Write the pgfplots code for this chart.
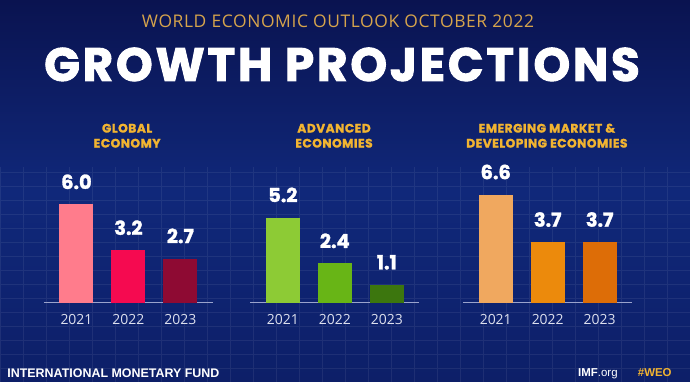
\documentclass[border=0pt]{standalone}
\usepackage{fontspec}
\setmainfont{Poppins}
\newfontfamily\heavy{Poppins}[BoldFeatures={FakeBold=1.5}]
\newfontfamily\titlefont{Poppins}[BoldFeatures={FakeBold=2, LetterSpace=6}]
\newfontfamily\headfont{Poppins}[BoldFeatures={FakeBold=1.5, LetterSpace=4}]
\newfontfamily\opensans{Open Sans}
\newfontfamily\subfont{Open Sans}[LetterSpace=3.5]
\newfontfamily\footfont{Liberation Sans}
\usepackage{pgfplots}
\pgfplotsset{compat=1.18}

\definecolor{bgtop}{HTML}{0A1350}
\definecolor{bgmid}{HTML}{10287A}
\definecolor{bgbot}{HTML}{0D1F68}
\definecolor{gold}{HTML}{F2B431}
\definecolor{subgold}{HTML}{D6A44C}
\definecolor{baseln}{HTML}{9AA3CC}
\definecolor{ticktxt}{HTML}{DDE0EE}
\definecolor{pinkA}{HTML}{FF7C8C}
\definecolor{pinkB}{HTML}{F50A50}
\definecolor{pinkC}{HTML}{8E0A33}
\definecolor{greenA}{HTML}{8DCB35}
\definecolor{greenB}{HTML}{68B516}
\definecolor{greenC}{HTML}{3C760E}
\definecolor{orangeA}{HTML}{F0A85F}
\definecolor{orangeB}{HTML}{EC8A0C}
\definecolor{orangeC}{HTML}{DD6D07}

\pgfplotsset{
  grp/.style={
    at={(#1bp,79bp)}, anchor=south west,
    width=169bp, height=131.2bp, scale only axis,
    xmin=-0.625, xmax=2.625, ymin=0, ymax=8,
    ybar, bar width=34bp, bar shift=0pt,
    axis x line=bottom, axis line style={-, draw=baseln, line width=0.8pt},
    hide y axis,
    xtick={0,1,2}, xticklabels={2021,2022,2023},
    major tick length=0pt,
    xticklabel style={anchor=base, yshift=-22bp, font=\opensans\fontsize{14}{14}\selectfont, text=ticktxt},
    nodes near coords,
    nodes near coords style={anchor=base, yshift=15.5bp, font=\heavy\bfseries\fontsize{19.5}{19}\selectfont, text=white,
      /pgf/number format/.cd, fixed, fixed zerofill, precision=1, assume math mode=true},
    clip=false,
  },
}

\begin{document}
\begin{tikzpicture}[x=1bp,y=1bp]
\shade[top color=bgtop, bottom color=bgbot, middle color=bgmid] (0,0) rectangle (690,382);
\begin{scope}[opacity=0.07]
\draw[white, line width=0.4pt, xstep=23, ystep=14] (0,0) grid (690,215);
\end{scope}
\path[use as bounding box] (0,0) rectangle (690,382);

% titles
\node[anchor=base, text=subgold, font=\subfont\fontsize{17.5}{17}\selectfont, inner sep=0] at (338,354.7) {WORLD ECONOMIC OUTLOOK OCTOBER 2022};
\node[anchor=base, text=white, font=\titlefont\bfseries\fontsize{47}{47}\selectfont, inner sep=0] at (342,301) {GROWTH PROJECTIONS};

% group headers
\tikzset{hd/.style={anchor=base, text=gold, font=\headfont\bfseries\fontsize{12.3}{12}\selectfont, inner sep=0}}
\node[hd] at (127,249.4) {GLOBAL};
\node[hd] at (127,234.4) {ECONOMY};
\node[hd] at (334,249.4) {ADVANCED};
\node[hd] at (334,234.4) {ECONOMIES};
\node[hd] at (547,249.4) {EMERGING MARKET \&};
\node[hd] at (547,234.4) {DEVELOPING ECONOMIES};

% Global economy
\begin{axis}[grp=43.8]
\addplot[fill=pinkA, draw=none] coordinates {(0,6.0)};
\addplot[fill=pinkB, draw=none] coordinates {(1,3.2)};
\addplot[fill=pinkC, draw=none] coordinates {(2,2.7)};
\end{axis}

% Advanced economies
\begin{axis}[grp=250.3]
\addplot[fill=greenA, draw=none] coordinates {(0,5.2)};
\addplot[fill=greenB, draw=none] coordinates {(1,2.4)};
\addplot[fill=greenC, draw=none] coordinates {(2,1.1)};
\end{axis}

% Emerging market & developing economies
\begin{axis}[grp=463.3]
\addplot[fill=orangeA, draw=none] coordinates {(0,6.6)};
\addplot[fill=orangeB, draw=none] coordinates {(1,3.7)};
\addplot[fill=orangeC, draw=none] coordinates {(2,3.7)};
\end{axis}

% footer
\node[anchor=base west, text=white, font=\footfont\bfseries\fontsize{12.5}{12}\selectfont, inner sep=0] at (7,4.5) {INTERNATIONAL MONETARY FUND};
\node[anchor=base east, text=white, font=\footfont\fontsize{11.5}{12}\selectfont, inner sep=0] at (618,5) {{\bfseries IMF}.org};
\node[anchor=base east, text=gold, font=\footfont\bfseries\fontsize{11.5}{12}\selectfont, inner sep=0] at (672,5) {\#WEO};
\end{tikzpicture}
\end{document}
